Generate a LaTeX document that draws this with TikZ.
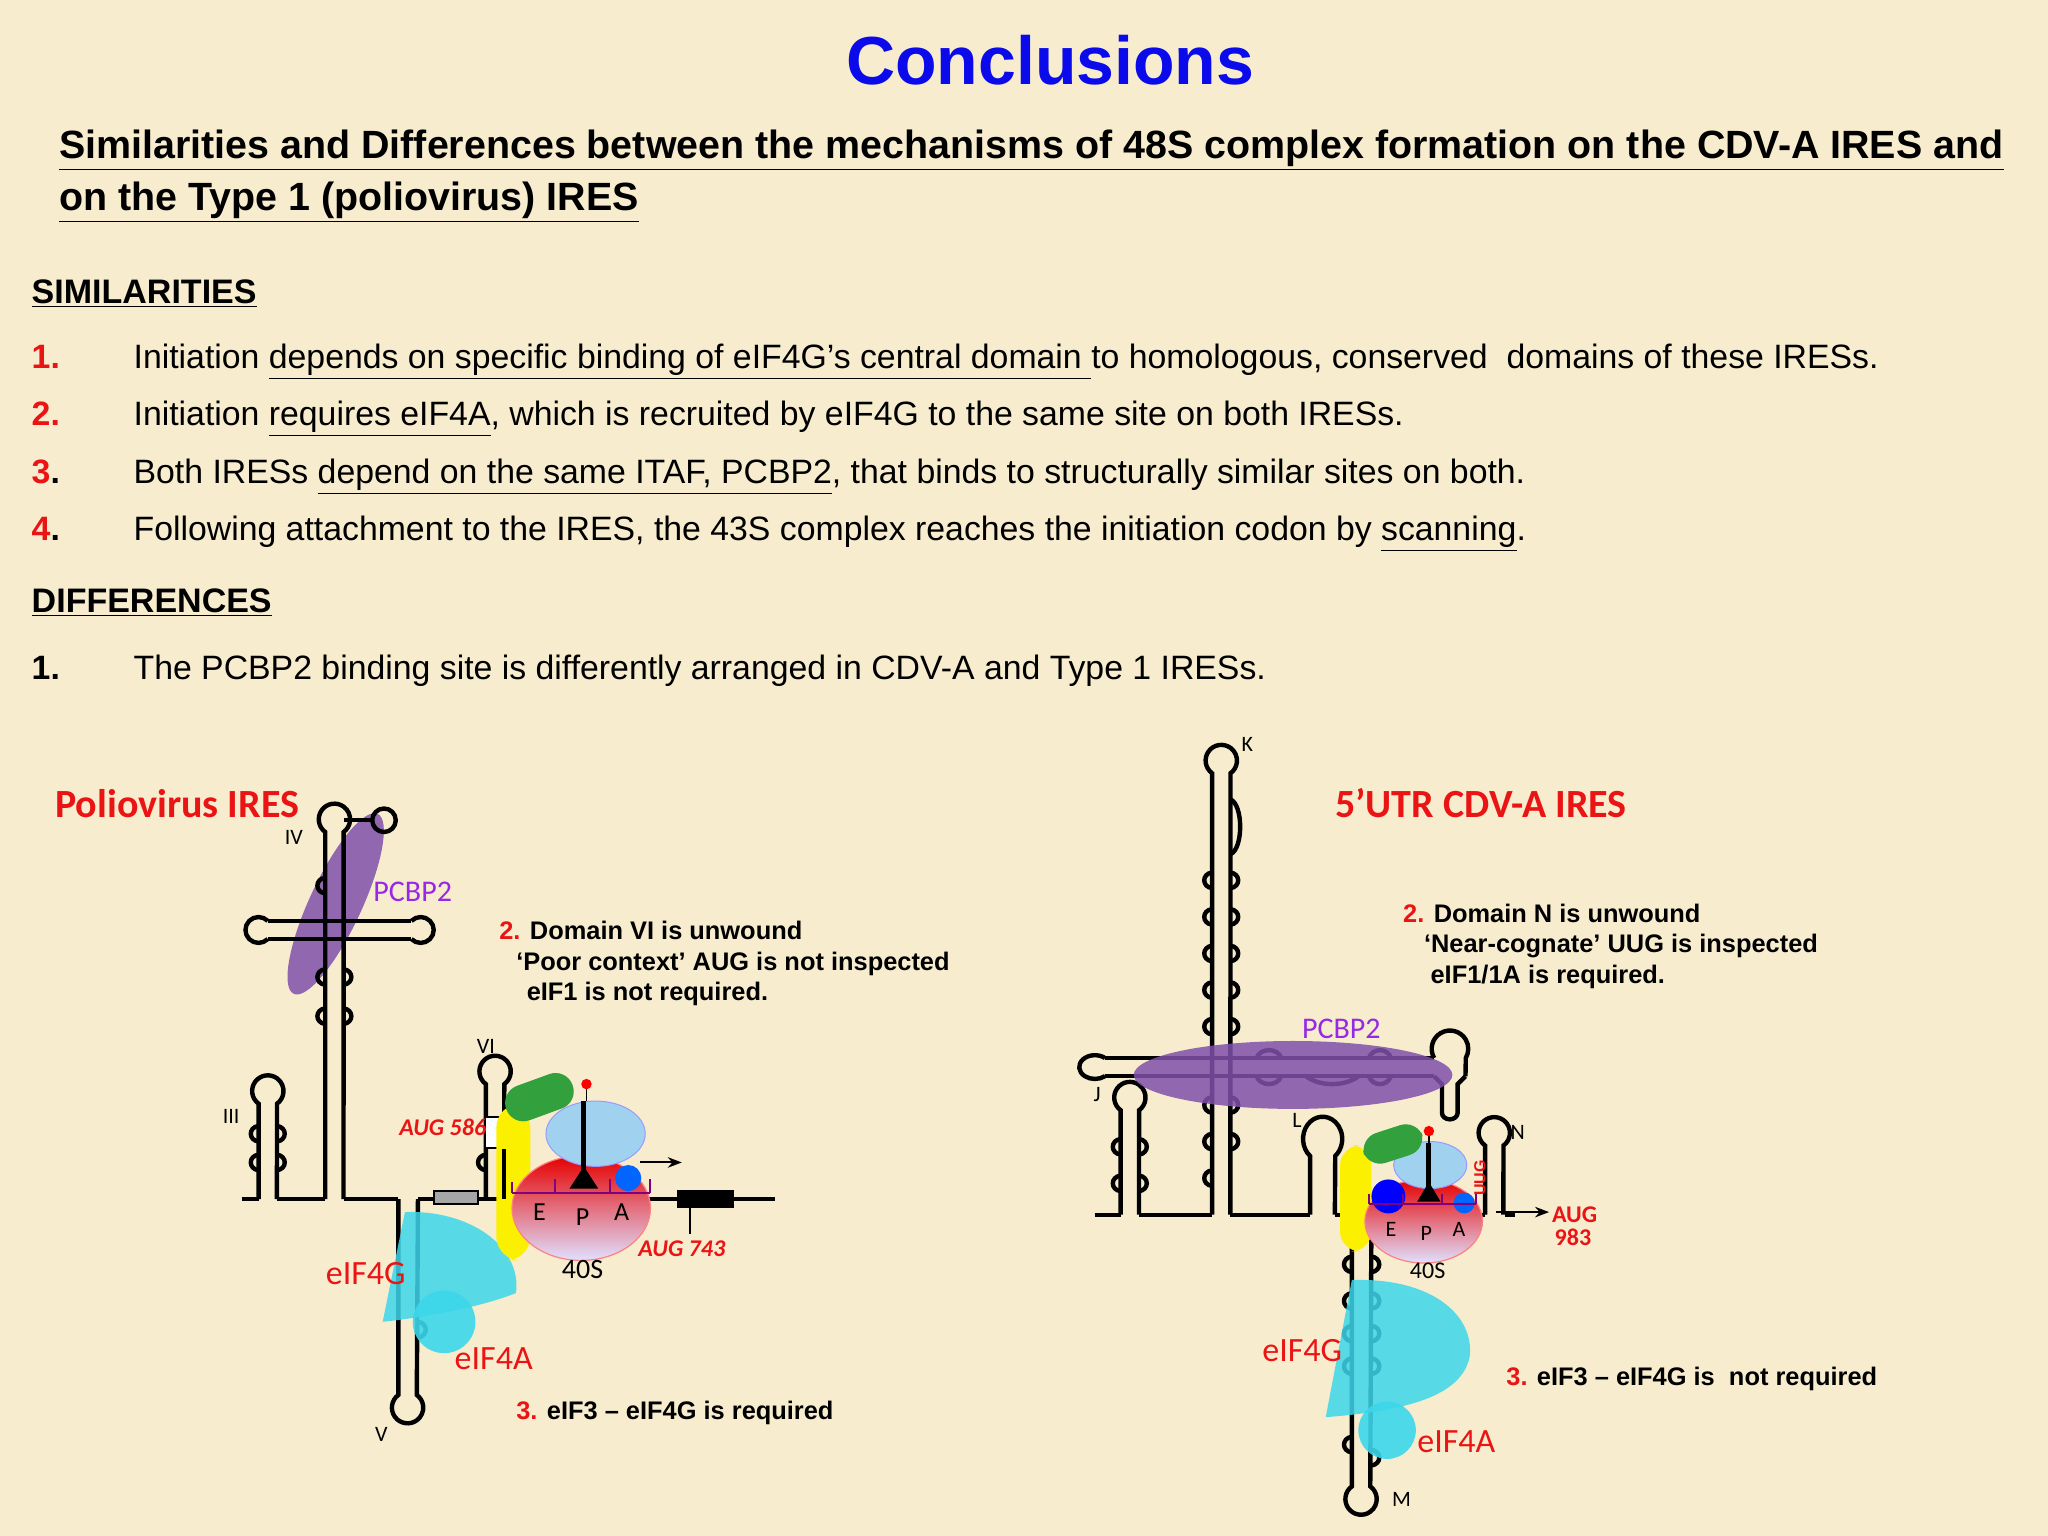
\documentclass[tikz,border=0pt]{standalone}
\usepackage{fontspec}
\setmainfont{Liberation Sans}
\newfontfamily\calf{Carlito}
\usetikzlibrary{arrows.meta}
\definecolor{bg}{RGB}{247,237,206}
\definecolor{ttl}{RGB}{10,10,235}
\definecolor{rd}{RGB}{235,20,20}
\definecolor{pur}{RGB}{128,80,170}
\definecolor{purtxt}{RGB}{150,40,230}
\definecolor{cy}{RGB}{60,215,235}
\definecolor{grn}{RGB}{50,160,60}
\definecolor{ylw}{RGB}{250,240,0}
\definecolor{lb}{RGB}{160,210,240}
\newcommand\bmpl[2]{\draw[rna] (#1,#2) .. controls (#1-8,#2+1) and (#1-8,#2+11) .. (#1,#2+12);}
\newcommand\bmpr[2]{\draw[rna] (#1,#2) .. controls (#1+8,#2+1) and (#1+8,#2+11) .. (#1,#2+12);}
\tikzset{
 rna/.style={line width=2.2pt,black},
 toploop/.style={start angle=126,end angle=414,radius=12},
 botloop/.style={start angle=234,end angle=-54,radius=12},
 body/.style={anchor=base west,font=\fontsize{16.9}{20}\selectfont,inner sep=0},
 num/.style={anchor=base west,font=\fontsize{16.9}{20}\selectfont\bfseries,inner sep=0,text=rd},
 dlab/.style={anchor=base west,font=\fontsize{12.7}{15}\selectfont\bfseries,inner sep=0},
 clab/.style={font=\calf\fontsize{17}{20}\selectfont,text=rd,inner sep=0},
 small/.style={font=\calf\fontsize{11}{13}\selectfont,inner sep=0},
}
\begin{document}
\begin{tikzpicture}[x=0.653pt,y=-0.653pt]
\fill[bg] (0,0) rectangle (1568,1176);
\useasboundingbox (0,0) rectangle (1568,1176);
% ---------- text ----------
\node[text=ttl,font=\fontsize{34}{40}\selectfont\bfseries,inner sep=0] (title) at (804,46) {Conclusions};
\node[anchor=base west,inner sep=0,font=\fontsize{19.7}{22}\selectfont\bfseries] (st1) at (45,121) {\underline{Similarities and Differences between the mechanisms of 48S complex formation on the CDV-A IRES and}};
\node[anchor=base west,inner sep=0,font=\fontsize{19.7}{22}\selectfont\bfseries] (st2) at (45,161) {\underline{on the Type 1 (poliovirus) IRES}};
\node[anchor=base west,inner sep=0,font=\fontsize{17}{20}\selectfont\bfseries] (sim) at (24,232) {\underline{SIMILARITIES}};
\node[num] (n1) at (24,282) {1.};
\node[body] (t1) at (102,282) {Initiation \underline{depends on specific binding of eIF4G’s central domain }to homologous, conserved\ \ domains of these IRESs.};
\node[num] (n2) at (24,326) {2.};
\node[body] (t2) at (102,326) {Initiation \underline{requires eIF4A}, which is recruited by eIF4G to the same site on both IRESs.};
\node[num] (n3) at (24,370) {3\textcolor{black}{.}};
\node[body] (t3) at (102,370) {Both IRESs \underline{depend on the same ITAF, PCBP2}, that binds to structurally similar sites on both.};
\node[num] (n4) at (24,414) {4\textcolor{black}{.}};
\node[body] (t4) at (102,414) {Following attachment to the IRES, the 43S complex reaches the initiation codon by \underline{scanning}.};
\node[anchor=base west,inner sep=0,font=\fontsize{17}{20}\selectfont\bfseries] (dif) at (24,469) {\underline{DIFFERENCES}};
\node[num,text=black] (d1) at (24,520) {1.};
\node[body] (dt1) at (102,520) {The PCBP2 binding site is differently arranged in CDV-A and Type 1 IRESs.};
% ---------- left diagram ----------
\node[font=\calf\bfseries\fontsize{20}{24}\selectfont,text=rd,anchor=west,inner sep=0] (polio) at (42,615) {Poliovirus IRES};
\fill[pur,opacity=0.85,rotate around={65:(257,692)}] (257,692) ellipse [x radius=76,y radius=20];
\draw[rna] (185,918) -- (198,918);
\draw[rna] (212,918) -- (249,918);
\draw[rna] (263,918) -- (305,918);
\draw[rna] (320,918) -- (593,918);
% III
\draw[rna] (198,918) -- (198,845) arc[toploop] -- (212,918);
\bmpl{198}{862}\bmpr{212}{862}\bmpl{198}{884}\bmpr{212}{884}
% IV
\draw[rna] (249,918) -- (249,637) arc[toploop] -- (263,918);
\draw[rna] (263,628) -- (285,628);
\draw[rna] (294,628) circle (9);
\draw[rna] (205,705) -- (315,705);
\draw[rna] (205,719) -- (315,719);
\draw[rna] (205,705) arc[start angle=-45,end angle=-315,x radius=10,y radius=9.9];
\draw[rna] (315,705) arc[start angle=225,end angle=495,x radius=10,y radius=9.9];
\bmpl{249}{672}\bmpl{249}{742}\bmpr{263}{742}\bmpl{249}{772}\bmpr{263}{772}
% V
\draw[rna] (305,918) -- (305,1068) arc[botloop] -- (320,918);
\bmpr{320}{1012}
% VI
\draw[rna] (372,918) -- (372,830) arc[toploop] -- (386,918);
\bmpl{372}{884}
\fill[white,draw=black,line width=1pt] (371,855) rectangle (387,879);
\fill[gray!70,draw=black,line width=1pt] (332,912) rectangle (366,922);
\fill[black] (518,911) rectangle (562,925);
\draw[black,line width=1pt] (528,925) -- (528,945);
% proteins
\fill[cy,opacity=0.85] (293,1012) -- (310,928) .. controls (360,926) and (400,955) .. (395,990) .. controls (370,1000) and (330,1008) .. cycle;
\fill[cy,opacity=0.9] (340,1012) circle (24);
\fill[ylw,rounded corners=12pt] (380,845) rectangle (406,965);
\draw[rna] (386,880) -- (386,918);
\shade[top color=red!90!black,bottom color=blue!12,draw=red!50,line width=0.6pt] (445,925) ellipse [x radius=53,y radius=40];
\fill[lb,draw=blue!40,line width=0.5pt] (456,868) ellipse [x radius=38,y radius=25];
\fill[rounded corners=9pt,grn,rotate around={20:(413,840)}] (386,826) rectangle (440,854);
\fill[blue!60!cyan] (481,902) circle (10);
\draw[line width=2.5pt] (447,843) -- (447,902);
\fill (447,893) -- (436,910) -- (458,910) -- cycle;
\draw[line width=0.6pt] (449,830) -- (449,843);
\fill[red] (449,830) circle (4);
\draw[violet,line width=1pt] (392,913) -- (498,913) (392,905)--(392,913) (425,903)--(425,913) (467,903)--(467,913) (498,903)--(498,913);
\draw[-{Stealth[length=7pt]},line width=1pt] (490,890) -- (522,890);
\node[font=\calf\fontsize{13}{15}\selectfont] (lE) at (413,928) {E};
\node[font=\calf\fontsize{13}{15}\selectfont] (lP) at (446,932) {P};
\node[font=\calf\fontsize{13}{15}\selectfont] (lA) at (476,928) {A};
\node[font=\calf\fontsize{14}{16}\selectfont] (l40) at (446,972) {40S};
\node[clab] (l4g) at (280,975) {eIF4G};
\node[clab] (l4a) at (378,1040) {eIF4A};
\node[text=purtxt,font=\calf\fontsize{15}{18}\selectfont] (lpc) at (316,683) {PCBP2};
\node[text=rd,font=\calf\bfseries\itshape\fontsize{12}{14}\selectfont] (a586) at (339,863) {AUG 586};
\node[text=rd,font=\calf\bfseries\itshape\fontsize{12}{14}\selectfont] (a743) at (522,956) {AUG 743};
\node[small] (lVI) at (372,801) {VI};
\node[small] (lIII) at (177,855) {III};
\node[small] (lIV) at (225,641) {IV};
\node[small] (lV) at (292,1098) {V};
\node[dlab] (l2a) at (382,719) {\textcolor{rd}{2.} Domain VI is unwound};
\node[dlab] (l2b) at (395,743) {‘Poor context’ AUG is not inspected};
\node[dlab] (l2c) at (403,766) {eIF1 is not required.};
\node[dlab] (l3) at (395,1087) {\textcolor{rd}{3.} eIF3 – eIF4G is required};
% ---------- right diagram ----------
\node[font=\calf\bfseries\fontsize{20}{24}\selectfont,text=rd,anchor=west,inner sep=0] (cdv) at (1022,615) {5’UTR CDV-A IRES};
\draw[rna] (838,930) -- (858,930);
\draw[rna] (872,930) -- (928,930);
\draw[rna] (942,930) -- (1003,930);
\draw[rna] (1022,930) -- (1035,930);
\draw[rna] (1050,930) -- (1137,930);
\draw[rna] (1152,930) -- (1160,930);
% J small hairpin
\draw[rna] (858,930) -- (858,850) arc[toploop] -- (872,930);
\bmpl{858}{872}\bmpr{872}{872}\bmpl{858}{900}\bmpr{872}{900}
% K
\draw[rna] (928,930) -- (928,592) arc[toploop] -- (942,930);
\draw[rna] (942,612) .. controls (952,616) and (952,650) .. (942,654);
\bmpl{928}{668}\bmpr{942}{668}\bmpl{928}{696}\bmpr{942}{696}\bmpl{928}{724}\bmpr{942}{724}\bmpl{928}{752}\bmpr{942}{752}\bmpl{928}{780}\bmpr{942}{780}\bmpl{928}{840}\bmpr{942}{840}\bmpl{928}{868}\bmpr{942}{868}\bmpl{928}{896}
% long horizontal arm
\draw[rna] (846,810) -- (1098,810);
\draw[rna] (846,824) -- (1098,824);
\draw[rna] (846,810) arc[start angle=-50,end angle=-310,x radius=12,y radius=9.1];
\draw[rna] (1098,810) arc[start angle=150,end angle=390,radius=14] -- (1122,824);
\draw[rna] (1098,824) -- (1104,830) -- (1104,852) arc[start angle=180,end angle=0,x radius=6,y radius=5] -- (1116,830) -- (1122,824);
\draw[rna] (962,810) .. controls (965,802) and (978,802) .. (981,810);
\draw[rna] (962,824) .. controls (965,832) and (978,832) .. (981,824);
\draw[rna] (1048,810) .. controls (1051,802) and (1062,802) .. (1065,810);
\draw[rna] (1048,824) .. controls (1051,832) and (1062,832) .. (1065,824);
\draw[rna] (1000,824) .. controls (1010,832) and (1030,832) .. (1040,824);
\fill[pur,opacity=0.85] (990,823) ellipse [x radius=122,y radius=26];
\node[text=purtxt,font=\calf\fontsize{15}{18}\selectfont] (rpc) at (1027,788) {PCBP2};
% L
\draw[rna] (1003,930) -- (1003,885) arc[start angle=130,end angle=410,x radius=15,y radius=17] -- (1022,930);
% M
\draw[rna] (1035,930) -- (1035,1138) arc[botloop] -- (1050,930);
\bmpl{1035}{962}\bmpr{1050}{962}\bmpl{1035}{990}\bmpr{1050}{990}\bmpl{1035}{1015}\bmpr{1050}{1015}\bmpl{1035}{1040}\bmpr{1050}{1040}\bmpl{1035}{1100}\bmpr{1050}{1110}
% N
\draw[rna] (1137,930) -- (1137,877) arc[toploop] -- (1151,930);
% proteins
\fill[cy,opacity=0.85] (1015,1085) -- (1035,980) .. controls (1100,978) and (1130,1010) .. (1125,1040) .. controls (1118,1068) and (1080,1080) .. cycle;
\fill[cy,opacity=0.9] (1062,1095) circle (22);
\fill[ylw,rounded corners=10pt] (1026,877) rectangle (1050,958);
\shade[top color=red!90!black,bottom color=blue!12,draw=red!50,line width=0.6pt] (1090,935) ellipse [x radius=45,y radius=32];
\fill[lb,draw=blue!40,line width=0.5pt] (1095,892) ellipse [x radius=28,y radius=18];
\fill[rounded corners=9pt,grn,rotate around={18:(1066,876)}] (1043,864) rectangle (1090,888);
\fill[blue] (1063,916) circle (13);
\fill[blue!60!cyan] (1121,921) circle (8);
\draw[line width=2.5pt] (1094,875) -- (1094,912);
\fill (1094,905) -- (1085,920) -- (1103,920) -- cycle;
\draw[line width=0.6pt] (1094,866) -- (1094,875);
\fill[red] (1094,866) circle (4);
\draw[violet,line width=1pt] (1048,922) -- (1130,922) (1048,914)--(1048,922) (1074,914)--(1074,922) (1104,914)--(1104,922) (1130,914)--(1130,922);
\draw[-{Stealth[length=7pt]},line width=1pt] (1145,928) -- (1186,928);
\node[text=rd,rotate=90,font=\bfseries\fontsize{8}{9}\selectfont] (uug) at (1133,902) {UUG};
\node[text=rd,font=\calf\bfseries\fontsize{12}{14}\selectfont,anchor=west,inner sep=0] (a983a) at (1188,930) {AUG};
\node[text=rd,font=\calf\bfseries\fontsize{12}{14}\selectfont,anchor=west,inner sep=0] (a983b) at (1190,947) {983};
\node[font=\calf\fontsize{11}{13}\selectfont] (rE) at (1065,941) {E};
\node[font=\calf\fontsize{11}{13}\selectfont] (rP) at (1092,944) {P};
\node[font=\calf\fontsize{11}{13}\selectfont] (rA) at (1117,941) {A};
\node[font=\calf\fontsize{12}{14}\selectfont] (r40) at (1093,973) {40S};
\node[clab] (r4g) at (997,1034) {eIF4G};
\node[clab] (r4a) at (1115,1104) {eIF4A};
\node[small] (rK) at (955,570) {K};
\node[small] (rJ) at (840,838) {J};
\node[small] (rL) at (993,858) {L};
\node[small] (rN) at (1162,867) {N};
\node[small] (rM) at (1073,1148) {M};
\node[dlab] (r2a) at (1074,706) {\textcolor{rd}{2.} Domain N is unwound};
\node[dlab] (r2b) at (1090,729) {‘Near-cognate’ UUG is inspected};
\node[dlab] (r2c) at (1095,753) {eIF1/1A is required.};
\node[dlab] (r3) at (1153,1061) {\textcolor{rd}{3.} eIF3 – eIF4G is\ \ not required};
\end{tikzpicture}
\end{document}
